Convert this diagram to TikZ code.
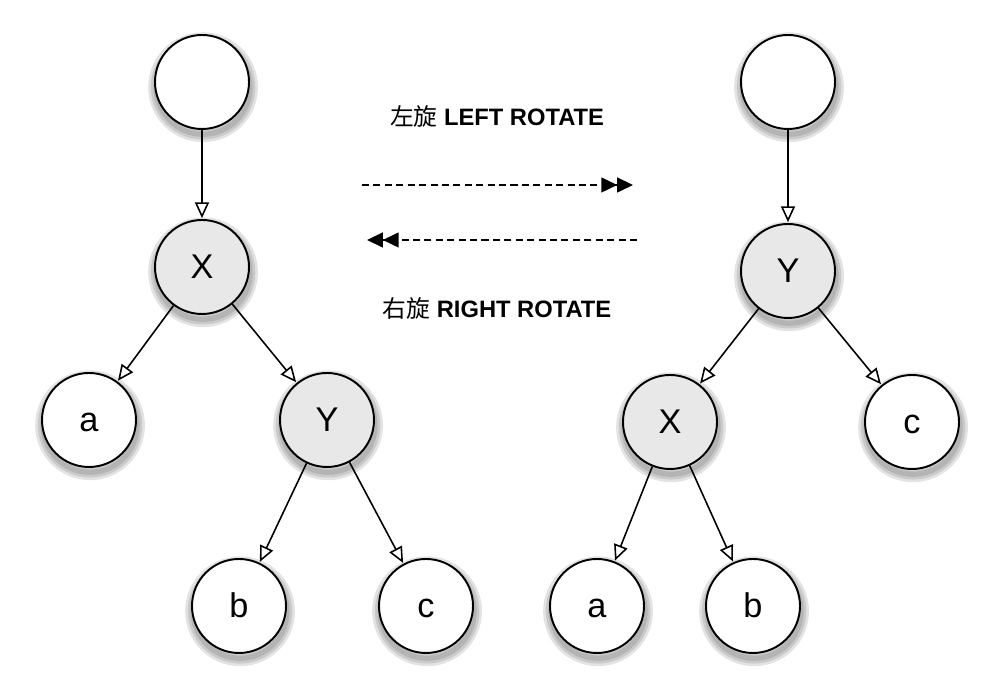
\documentclass[tikz,border=0pt]{standalone}
\usepackage{fontspec}
\setmainfont{Liberation Sans}
\newfontfamily\cjk{Noto Sans CJK SC}
\usetikzlibrary{arrows.meta}

\begin{document}
\begin{tikzpicture}[
  shd/.style={preaction={draw=black, opacity=0.11, line width=#1,
    transform canvas={shift={(0.6pt,-3pt)}}}},
  nd/.style={circle, draw, line width=1.1pt, minimum size=1.88cm, fill=white,
    font=\fontsize{19.5}{20}\selectfont, text height=13.5pt, text depth=0pt,
    shd=9pt, shd=6pt, shd=3pt},
  gr/.style={nd, fill=black!9},
  ed/.style={-{Triangle[open, length=9pt, width=8pt]}, line width=0.9pt, shorten >=0.5pt},
  rot/.style={dash pattern=on 4pt off 2.5pt, line width=0.8pt,
    -{Triangle[length=9pt, width=8.5pt]Triangle[length=9pt, width=8.5pt]}},
  lab/.style={font=\fontsize{13.5}{15}\selectfont}
]
\useasboundingbox (0,0) rectangle (20,13.98);
% left tree
\node[nd] (0) at (4.04,12.34) {};
\node[gr] (1) at (4.04,8.64) {X};
\node[nd] (2) at (1.78,5.58) {a};
\node[gr] (3) at (6.54,5.58) {Y};
\node[nd] (4) at (4.78,1.86) {b};
\node[nd] (5) at (8.52,1.86) {c};
% right tree
\node[nd] (6) at (15.76,12.34) {};
\node[gr] (7) at (15.76,8.56) {Y};
\node[gr] (8) at (13.40,5.54) {X};
\node[nd] (9) at (18.24,5.54) {c};
\node[nd] (10) at (11.94,1.86) {a};
\node[nd] (11) at (15.06,1.86) {b};
\draw[ed] (0)--(1);
\draw[ed] (1)--(2);
\draw[ed] (1)--(3);
\draw[ed] (3)--(4);
\draw[ed] (3)--(5);
\draw[ed] (6)--(7);
\draw[ed] (7)--(8);
\draw[ed] (7)--(9);
\draw[ed] (8)--(10);
\draw[ed] (8)--(11);
% rotations
\node[lab] (12) at (9.94,11.66) {{\cjk 左旋} \textbf{LEFT ROTATE}};
\node[lab] (13) at (9.94,7.82) {{\cjk 右旋} \textbf{RIGHT ROTATE}};
\coordinate (14) at (7.24,10.28);
\coordinate (15) at (12.66,10.28);
\coordinate (16) at (12.74,9.18);
\coordinate (17) at (7.34,9.18);
\draw[rot] (14)--(15);
\draw[rot] (16)--(17);
\end{tikzpicture}
\end{document}
